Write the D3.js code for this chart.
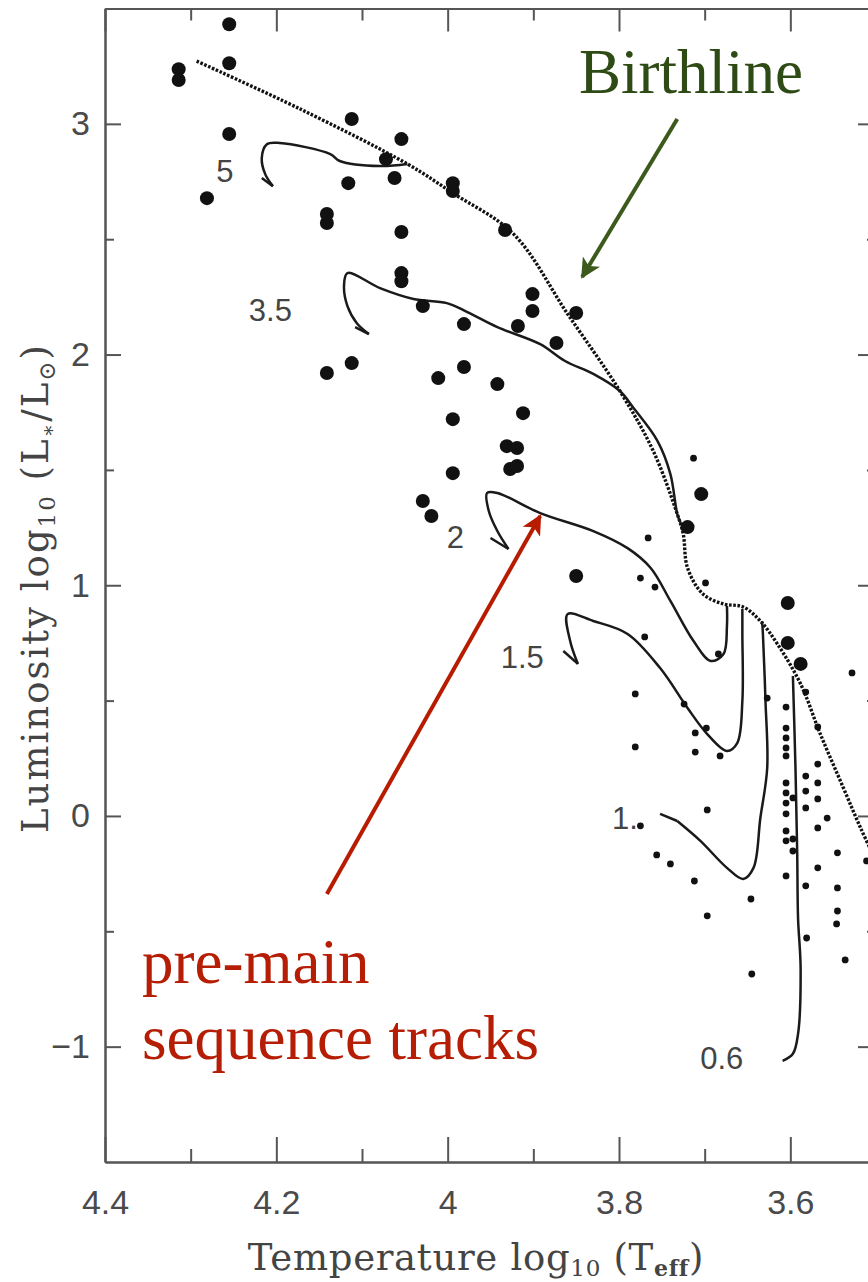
<!DOCTYPE html>
<html>
<head>
<meta charset="utf-8">
<script src="https://cdn.jsdelivr.net/npm/d3@7"></script>
<style>
  body { margin: 0; background: #fff; }
  svg { display: block; }
</style>
</head>
<body>
<div id="hr-chart"></div>
<script>
// axis ticks
const xTicks = [4.4, 4.2, 4, 3.8, 3.6];
const xMinor = [4.3, 4.1, 3.9, 3.7];
const yTicks = [-1, 0, 1, 2, 3];
const yMinor = [-0.5, 0.5, 1.5, 2.5];

// birthline [logTeff, logL]
const birthline = [
    [4.293, 3.272], [4.172, 3.064], [4.047, 2.826], [3.994, 2.700], [3.923, 2.522],
    [3.860, 2.176], [3.799, 1.842], [3.760, 1.582], [3.732, 1.309], [3.725, 1.222],
    [3.720, 1.075], [3.702, 0.962], [3.678, 0.919], [3.655, 0.906], [3.635, 0.845],
    [3.615, 0.745], [3.588, 0.572], [3.565, 0.355], [3.538, 0.121], [3.518, -0.052],
    [3.500, -0.195]
];

// pre-main sequence tracks, last point = end of the hook
const track5 = [
    [4.047, 2.826], [4.079, 2.817], [4.126, 2.839], [4.137, 2.869], [4.196, 2.917],
    [4.211, 2.912], [4.217, 2.852], [4.213, 2.782], [4.204, 2.730], [4.217, 2.765]
];
const track35 = [
    [3.728, 1.270], [3.732, 1.309], [3.740, 1.482], [3.755, 1.625], [3.783, 1.768],
    [3.799, 1.842], [3.830, 1.916], [3.863, 1.972], [3.892, 2.045], [3.942, 2.119],
    [3.977, 2.184], [4.001, 2.223], [4.040, 2.241], [4.079, 2.288], [4.117, 2.353],
    [4.121, 2.297], [4.117, 2.210], [4.106, 2.136], [4.092, 2.089], [4.108, 2.119]
];
const track2 = [
    [3.674, 0.910], [3.674, 0.823], [3.678, 0.702], [3.693, 0.672], [3.713, 0.758],
    [3.740, 0.932], [3.763, 1.075], [3.790, 1.161], [3.830, 1.235], [3.892, 1.313],
    [3.942, 1.400], [3.954, 1.400], [3.952, 1.322], [3.942, 1.235], [3.929, 1.157],
    [3.950, 1.205]
];
const track15 = [
    [3.656, 0.897], [3.656, 0.789], [3.656, 0.498], [3.662, 0.316], [3.674, 0.282],
    [3.697, 0.355], [3.720, 0.468], [3.752, 0.641], [3.790, 0.789], [3.830, 0.845],
    [3.860, 0.875], [3.857, 0.758], [3.848, 0.659], [3.865, 0.715]
];
const track1 = [
    [3.633, 0.845], [3.632, 0.789], [3.629, 0.498], [3.627, 0.208], [3.635, -0.009],
    [3.643, -0.225], [3.655, -0.273], [3.674, -0.225], [3.705, -0.108], [3.732, -0.022],
    [3.752, 0.009]
];
const track06 = [
    [3.597, 0.607], [3.594, 0.208], [3.592, -0.152], [3.591, -0.442], [3.588, -0.659],
    [3.591, -0.945], [3.597, -1.031], [3.609, -1.062]
];
const trackLabels = [
    { text: '5', t: 4.260, l: 2.795 },
    { text: '3.5', t: 4.207, l: 2.189 },
    { text: '2', t: 3.991, l: 1.205 },
    { text: '1.5', t: 3.913, l: 0.685 },
    { text: '1.', t: 3.793, l: -0.013 },
    { text: '0.6', t: 3.680, l: -1.053 }
];

// Herbig Ae/Be stars (large) and T Tauri stars (small)
const bigStars = [
    [4.255, 3.432], [4.255, 3.263], [4.314, 3.237], [4.314, 3.190], [4.255, 2.956], [4.281, 2.678],
    [4.112, 3.021], [4.054, 2.934], [4.072, 2.847], [4.062, 2.765], [4.116, 2.743], [4.141, 2.609],
    [4.141, 2.570], [4.054, 2.531], [4.054, 2.353], [4.054, 2.318], [3.994, 2.743], [3.994, 2.709],
    [3.933, 2.540], [3.901, 2.262], [3.901, 2.189], [3.850, 2.180], [4.029, 2.210], [3.981, 2.132],
    [3.918, 2.124], [3.873, 2.050], [4.141, 1.920], [4.112, 1.963], [4.011, 1.898], [3.981, 1.946],
    [3.942, 1.872], [3.912, 1.746], [3.994, 1.720], [3.931, 1.603], [3.919, 1.595], [3.927, 1.504],
    [3.919, 1.517], [3.994, 1.486], [4.029, 1.365], [4.019, 1.300], [3.850, 1.040], [3.704, 1.395],
    [3.720, 1.252], [3.603, 0.923], [3.603, 0.750], [3.588, 0.659]
];
const smallStars = [
    [3.713, 1.551], [3.766, 1.205], [3.775, 1.031], [3.758, 0.992], [3.699, 1.010], [3.770, 0.776],
    [3.781, 0.529], [3.781, 0.299], [3.724, 0.485], [3.711, 0.360], [3.698, 0.381], [3.711, 0.277],
    [3.682, 0.260], [3.684, 0.702], [3.627, 0.511], [3.605, 0.472], [3.582, 0.537], [3.568, 0.386],
    [3.568, 0.225], [3.582, 0.173], [3.582, 0.108], [3.568, 0.143], [3.568, 0.074], [3.582, 0.035],
    [3.557, -0.009], [3.568, -0.052], [3.605, 0.381], [3.605, 0.338], [3.605, 0.295], [3.605, 0.260],
    [3.605, 0.143], [3.605, 0.100], [3.605, 0.056], [3.605, 0.009], [3.597, 0.078], [3.605, -0.065],
    [3.597, -0.100], [3.605, -0.108], [3.597, -0.152], [3.605, -0.260], [3.545, -0.160], [3.568, -0.225],
    [3.582, -0.303], [3.545, -0.312], [3.545, -0.412], [3.511, -0.195], [3.697, 0.026], [3.775, -0.043],
    [3.756, -0.169], [3.740, -0.208], [3.712, -0.282], [3.646, -0.360], [3.697, -0.433], [3.645, -0.685],
    [3.581, -0.529], [3.546, -0.468], [3.536, -0.624], [3.528, 0.620]
];

// annotations
const birthArrow = { from: [3.732, 3.021], to: [3.843, 2.336] };
const trackArrow = { from: [4.141, -0.338], to: [3.892, 1.300] };

const W = 868, H = 1282;
const x = d3.scaleLinear().domain([4.4, 3.5]).range([105, 876]);
const y = d3.scaleLinear().domain([-1.5, 3.5]).range([1162, 8.5]);

const svg = d3.select('#hr-chart').append('svg')
    .attr('width', W).attr('height', H);
svg.append('rect').attr('width', W).attr('height', H).attr('fill', '#fff');

const axisColor = '#555';
const tickFont = '"Liberation Sans", Arial, sans-serif';
const fmt = d3.format('~g');

function styleAxis(g) {
    g.select('.domain').attr('stroke', axisColor).attr('stroke-width', 2);
    g.selectAll('.tick line').attr('stroke', axisColor).attr('stroke-width', 2);
    g.selectAll('.tick text').attr('fill', '#4a4a4a')
        .style('font-family', tickFont).style('font-size', '34px');
}

const yBottom = y.range()[0], yTop = y.range()[1];
const xLeft = x.range()[0], xRight = x.range()[1];

// bottom axis
svg.append('g').attr('transform', 'translate(0,' + yBottom + ')')
    .call(d3.axisBottom(x).tickValues(xTicks).tickFormat(fmt).tickSize(-25).tickSizeOuter(0).tickPadding(28))
    .call(styleAxis);
svg.append('g').attr('transform', 'translate(0,' + yBottom + ')')
    .call(d3.axisBottom(x).tickValues(xMinor).tickSize(-13).tickSizeOuter(0).tickFormat(''))
    .call(styleAxis);
// top axis
svg.append('g').attr('transform', 'translate(0,' + yTop + ')')
    .call(d3.axisTop(x).tickValues(xTicks).tickSize(-23).tickSizeOuter(0).tickFormat(''))
    .call(styleAxis);
svg.append('g').attr('transform', 'translate(0,' + yTop + ')')
    .call(d3.axisTop(x).tickValues(xMinor).tickSize(-12).tickSizeOuter(0).tickFormat(''))
    .call(styleAxis);
// left axis
svg.append('g').attr('transform', 'translate(' + xLeft + ',0)')
    .call(d3.axisLeft(y).tickValues(yTicks).tickFormat(fmt).tickSize(-16).tickSizeOuter(0).tickPadding(15))
    .call(styleAxis);
svg.append('g').attr('transform', 'translate(' + xLeft + ',0)')
    .call(d3.axisLeft(y).tickValues(yMinor).tickSize(-9).tickSizeOuter(0).tickFormat(''))
    .call(styleAxis);
// right axis
svg.append('g').attr('transform', 'translate(' + xRight + ',0)')
    .call(d3.axisRight(y).tickValues(yTicks).tickSize(-18).tickSizeOuter(0).tickFormat(''))
    .call(styleAxis);
svg.append('g').attr('transform', 'translate(' + xRight + ',0)')
    .call(d3.axisRight(y).tickValues(yMinor).tickSize(-9).tickSizeOuter(0).tickFormat(''))
    .call(styleAxis);

// axis titles
const titleFont = '"DejaVu Serif", serif';
const xt = svg.append('text')
    .attr('x', 476).attr('y', 1270)
    .attr('text-anchor', 'middle')
    .attr('fill', '#444')
    .style('letter-spacing', '0.7px')
    .style('font-family', titleFont).style('font-size', '37px');
xt.append('tspan').text('Temperature log');
xt.append('tspan').text('10').attr('dy', 6).style('font-size', '23px');
xt.append('tspan').text(' (T').attr('dy', -6);
xt.append('tspan').text('eff').attr('dy', 6).style('font-size', '22px').style('font-weight', 'bold');
xt.append('tspan').text(')').attr('dy', -6);

const yt = svg.append('text')
    .attr('transform', 'translate(48,588) rotate(-90)')
    .attr('text-anchor', 'middle')
    .attr('fill', '#444')
    .style('letter-spacing', '2px')
    .style('font-family', titleFont).style('font-size', '37px');
yt.append('tspan').text('Luminosity log');
yt.append('tspan').text('10').attr('dy', 7).style('font-size', '23px');
yt.append('tspan').text(' (L').attr('dy', -7);
yt.append('tspan').text('∗').attr('dy', 7).style('font-size', '20px');
yt.append('tspan').text('/L').attr('dy', -7);
yt.append('tspan').text('⊙').attr('dy', 7).style('font-size', '23px');
yt.append('tspan').text(')').attr('dy', -7);

// lines
const curve = d3.line()
    .x(function (d) { return x(d[0]); })
    .y(function (d) { return y(d[1]); })
    .curve(d3.curveCatmullRom.alpha(0.5));
const straight = d3.line()
    .x(function (d) { return x(d[0]); })
    .y(function (d) { return y(d[1]); });

svg.append('path')
    .attr('d', curve(birthline))
    .attr('fill', 'none')
    .attr('stroke', '#111')
    .attr('stroke-width', 3.4)
    .attr('stroke-dasharray', '2.6,1.6');

const tracks = [track5, track35, track2, track15, track1];
tracks.forEach(function (t) {
    svg.append('path')
        .attr('d', curve(t.slice(0, -1)))
        .attr('fill', 'none').attr('stroke', '#1a1a1a').attr('stroke-width', 2.5);
    svg.append('path')
        .attr('d', straight(t.slice(-2)))
        .attr('fill', 'none').attr('stroke', '#1a1a1a').attr('stroke-width', 2.5);
});
svg.append('path')
    .attr('d', curve(track06))
    .attr('fill', 'none').attr('stroke', '#1a1a1a').attr('stroke-width', 2.5);

svg.selectAll('.tlabel')
    .data(trackLabels)
    .enter()
    .append('text')
    .attr('x', function (d) { return x(d.t); })
    .attr('y', function (d) { return y(d.l); })
    .attr('text-anchor', 'middle')
    .attr('dominant-baseline', 'central')
    .attr('fill', '#444')
    .style('font-family', tickFont).style('font-size', '31px')
    .text(function (d) { return d.text; });

// stars
svg.selectAll('.big')
    .data(bigStars)
    .enter()
    .append('circle')
    .attr('cx', function (d) { return x(d[0]); })
    .attr('cy', function (d) { return y(d[1]); })
    .attr('r', 7)
    .attr('fill', '#111');

svg.selectAll('.small')
    .data(smallStars)
    .enter()
    .append('circle')
    .attr('cx', function (d) { return x(d[0]); })
    .attr('cy', function (d) { return y(d[1]); })
    .attr('r', 3.4)
    .attr('fill', '#111');

// annotations
const defs = svg.append('defs');
function marker(id, color) {
    defs.append('marker')
        .attr('id', id)
        .attr('viewBox', '0 0 10 10')
        .attr('refX', 9).attr('refY', 5)
        .attr('markerWidth', 5).attr('markerHeight', 5.5)
        .attr('markerUnits', 'strokeWidth')
        .attr('orient', 'auto')
        .append('path')
        .attr('d', 'M0,0 L10,5 L0,10 L2.5,5 Z')
        .attr('fill', color);
}
marker('arrowGreen', '#3b5a1c');
marker('arrowRed', '#b81c00');

function arrow(a, color, id) {
    svg.append('line')
        .attr('x1', x(a.from[0])).attr('y1', y(a.from[1]))
        .attr('x2', x(a.to[0])).attr('y2', y(a.to[1]))
        .attr('stroke', color)
        .attr('stroke-width', 4)
        .attr('marker-end', 'url(#' + id + ')');
}
arrow(birthArrow, '#3b5a1c', 'arrowGreen');
arrow(trackArrow, '#b81c00', 'arrowRed');

const noteFont = '"Liberation Serif", "Times New Roman", serif';
svg.append('text')
    .attr('x', 579).attr('y', 93)
    .attr('fill', '#2e4a15')
    .style('font-family', noteFont).style('font-size', '63px')
    .text('Birthline');
svg.append('text')
    .attr('x', 142).attr('y', 983)
    .attr('fill', '#b51e04')
    .style('font-family', noteFont).style('font-size', '63px')
    .text('pre-main');
svg.append('text')
    .attr('x', 142).attr('y', 1059)
    .attr('fill', '#b51e04')
    .style('font-family', noteFont).style('font-size', '63px')
    .text('sequence tracks');
</script>
</body>
</html>
